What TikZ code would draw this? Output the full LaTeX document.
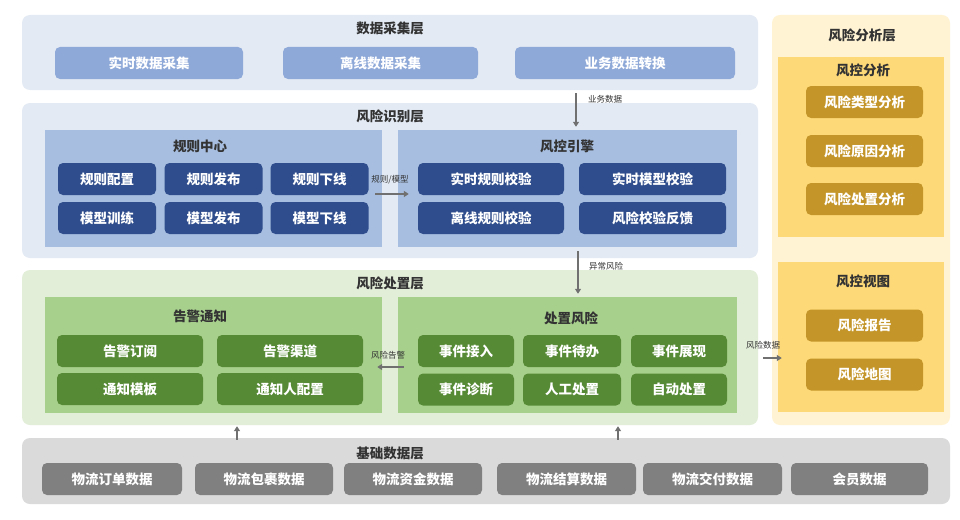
\documentclass[tikz,border=0pt]{standalone}
\usepackage{fontspec}
\setmainfont{Noto Sans CJK SC}
\usetikzlibrary{arrows.meta}
\definecolor{layblue}{HTML}{E3EAF4}
\definecolor{boxlblue}{HTML}{8EA8D8}
\definecolor{panblue}{HTML}{A7BEE0}
\definecolor{boxdblue}{HTML}{2F4D8C}
\definecolor{laygreen}{HTML}{E3EED9}
\definecolor{pangreen}{HTML}{A8D08D}
\definecolor{boxgreen}{HTML}{568A35}
\definecolor{layyellow}{HTML}{FFF3D3}
\definecolor{panyellow}{HTML}{FDD977}
\definecolor{boxgold}{HTML}{C4962A}
\definecolor{laygrey}{HTML}{DADADA}
\definecolor{boxgrey}{HTML}{808080}
\definecolor{arrgrey}{HTML}{707070}
\definecolor{titletext}{HTML}{333333}
\tikzset{
  layer/.style={rounded corners=8pt, inner sep=0pt},
  panel/.style={inner sep=0pt},
  box/.style={rounded corners=5pt, inner sep=0pt, text=white, font=\bfseries\fontsize{13.5}{14}\selectfont, minimum height=32pt},
  ttl/.style={text=titletext, font=\bfseries\fontsize{13.5}{14}\selectfont, inner sep=0pt},
  lbl/.style={text=titletext, font=\fontsize{8.5}{9}\selectfont, inner sep=0pt},
  arr/.style={draw=arrgrey, line width=1.7pt, -{Triangle[length=5pt,width=6pt]}}
}
\begin{document}
\begin{tikzpicture}[x=1pt,y=-1pt]
\useasboundingbox[fill=white] (0,0) rectangle (960,519);
% ---------- layers ----------
\node[layer, fill=layblue, minimum width=736pt, minimum height=75pt] (collect) at (390,52.5) {};
\node[layer, fill=layblue, minimum width=736pt, minimum height=155pt] (ident) at (390,180.5) {};
\node[layer, fill=laygreen, minimum width=736pt, minimum height=155pt] (handle) at (390,347.5) {};
\node[layer, fill=layyellow, minimum width=178pt, minimum height=410pt] (analysis) at (861,220) {};
\node[layer, fill=laygrey, minimum width=928pt, minimum height=66pt] (base) at (486,471) {};
% layer titles
\node[ttl] (tcollect) at (390,28) {数据采集层};
\node[ttl] (tident) at (390,116) {风险识别层};
\node[ttl] (thandle) at (390,283) {风险处置层};
\node[ttl] (tanalysis) at (862,35) {风险分析层};
\node[ttl] (tbase) at (390,453) {基础数据层};
% ---------- data collection ----------
\node[box, fill=boxlblue, minimum width=188pt] (c1) at (149,63) {实时数据采集};
\node[box, fill=boxlblue, minimum width=195pt] (c2) at (380.5,63) {离线数据采集};
\node[box, fill=boxlblue, minimum width=220pt] (c3) at (625,63) {业务数据转换};
% ---------- risk identification ----------
\node[panel, fill=panblue, minimum width=337pt, minimum height=117pt] (rule) at (213.5,188.5) {};
\node[ttl] (trule) at (200,146) {规则中心};
\node[box, fill=boxdblue, minimum width=98pt] (r1) at (107,179) {规则配置};
\node[box, fill=boxdblue, minimum width=98pt] (r2) at (213.5,179) {规则发布};
\node[box, fill=boxdblue, minimum width=98pt] (r3) at (319.5,179) {规则下线};
\node[box, fill=boxdblue, minimum width=98pt] (r4) at (107,218) {模型训练};
\node[box, fill=boxdblue, minimum width=98pt] (r5) at (213.5,218) {模型发布};
\node[box, fill=boxdblue, minimum width=98pt] (r6) at (319.5,218) {模型下线};
\node[panel, fill=panblue, minimum width=339pt, minimum height=117pt] (engine) at (567.5,188.5) {};
\node[ttl] (tengine) at (567,146) {风控引擎};
\node[box, fill=boxdblue, minimum width=146pt] (e1) at (491,179) {实时规则校验};
\node[box, fill=boxdblue, minimum width=147pt] (e2) at (652.5,179) {实时模型校验};
\node[box, fill=boxdblue, minimum width=146pt] (e3) at (491,218) {离线规则校验};
\node[box, fill=boxdblue, minimum width=147pt] (e4) at (652.5,218) {风险校验反馈};
% ---------- risk handling ----------
\node[panel, fill=pangreen, minimum width=337pt, minimum height=116pt] (alert) at (213.5,355) {};
\node[ttl] (talert) at (200,316) {告警通知};
\node[box, fill=boxgreen, minimum width=146pt] (a1) at (130,351) {告警订阅};
\node[box, fill=boxgreen, minimum width=146pt] (a2) at (290,351) {告警渠道};
\node[box, fill=boxgreen, minimum width=146pt] (a3) at (130,389) {通知模板};
\node[box, fill=boxgreen, minimum width=146pt] (a4) at (290,389) {通知人配置};
\node[panel, fill=pangreen, minimum width=339pt, minimum height=116pt] (dispose) at (567.5,355) {};
\node[ttl] (tdispose) at (571,318) {处置风险};
\node[box, fill=boxgreen, minimum width=96pt] (d1) at (466,351) {事件接入};
\node[box, fill=boxgreen, minimum width=98pt] (d2) at (572,351) {事件待办};
\node[box, fill=boxgreen, minimum width=96pt] (d3) at (679,351) {事件展现};
\node[box, fill=boxgreen, minimum width=96pt] (d4) at (466,389.5) {事件诊断};
\node[box, fill=boxgreen, minimum width=98pt] (d5) at (572,389.5) {人工处置};
\node[box, fill=boxgreen, minimum width=96pt] (d6) at (679,389.5) {自动处置};
% ---------- risk analysis ----------
\node[panel, fill=panyellow, minimum width=166pt, minimum height=180pt] (ana) at (861,147) {};
\node[ttl] (tana) at (863,70) {风控分析};
\node[box, fill=boxgold, minimum width=117pt] (y1) at (864.5,102) {风险类型分析};
\node[box, fill=boxgold, minimum width=117pt] (y2) at (864.5,151) {风险原因分析};
\node[box, fill=boxgold, minimum width=117pt] (y3) at (864.5,199) {风险处置分析};
\node[panel, fill=panyellow, minimum width=166pt, minimum height=150pt] (view) at (861,337) {};
\node[ttl] (tview) at (863,281) {风控视图};
\node[box, fill=boxgold, minimum width=117pt] (v1) at (864.5,325.5) {风险报告};
\node[box, fill=boxgold, minimum width=117pt] (v2) at (864.5,374.5) {风险地图};
% ---------- base data ----------
\node[box, fill=boxgrey, minimum width=140pt] (b1) at (112,479) {物流订单数据};
\node[box, fill=boxgrey, minimum width=138pt] (b2) at (264,479) {物流包裹数据};
\node[box, fill=boxgrey, minimum width=138pt] (b3) at (413,479) {物流资金数据};
\node[box, fill=boxgrey, minimum width=139pt] (b4) at (566.5,479) {物流结算数据};
\node[box, fill=boxgrey, minimum width=139pt] (b5) at (712.5,479) {物流交付数据};
\node[box, fill=boxgrey, minimum width=137pt] (b6) at (859.5,479) {会员数据};
% ---------- connectors ----------
\draw[arr, shorten <=3pt, shorten >=3pt] ([xshift=8.5pt]engine.north |- collect.south) -- ([xshift=8.5pt]engine.north);
\node[lbl] (l1) at (605,99) {业务数据};
\draw[arr, shorten <=-7pt, shorten >=-11pt] (rule.east |- 0,194) -- (engine.west |- 0,194);
\node[lbl] (l2) at (390,180) {规则/模型};
\draw[arr, shorten <=4pt, shorten >=3pt] ([xshift=10.5pt]engine.south) -- ([xshift=10.5pt]dispose.north);
\node[lbl] (l3) at (606,266) {异常风险};
\draw[arr, shorten <=-6pt, shorten >=-5pt] (dispose.west |- 0,367) -- (alert.east |- 0,367);
\node[lbl] (l4) at (388,355) {风险告警};
\draw[arr, shorten <=5pt, shorten >=-4pt] (handle.east |- 0,358) -- (view.west |- 0,358);
\node[lbl] (l5) at (763,345) {风险数据};
\draw[arr, shorten <=-2pt, shorten >=1pt] (base.north -| 237,0) -- (handle.south -| 237,0);
\draw[arr, shorten <=-2pt, shorten >=1pt] (base.north -| 618,0) -- (handle.south -| 618,0);
\end{tikzpicture}
\end{document}
